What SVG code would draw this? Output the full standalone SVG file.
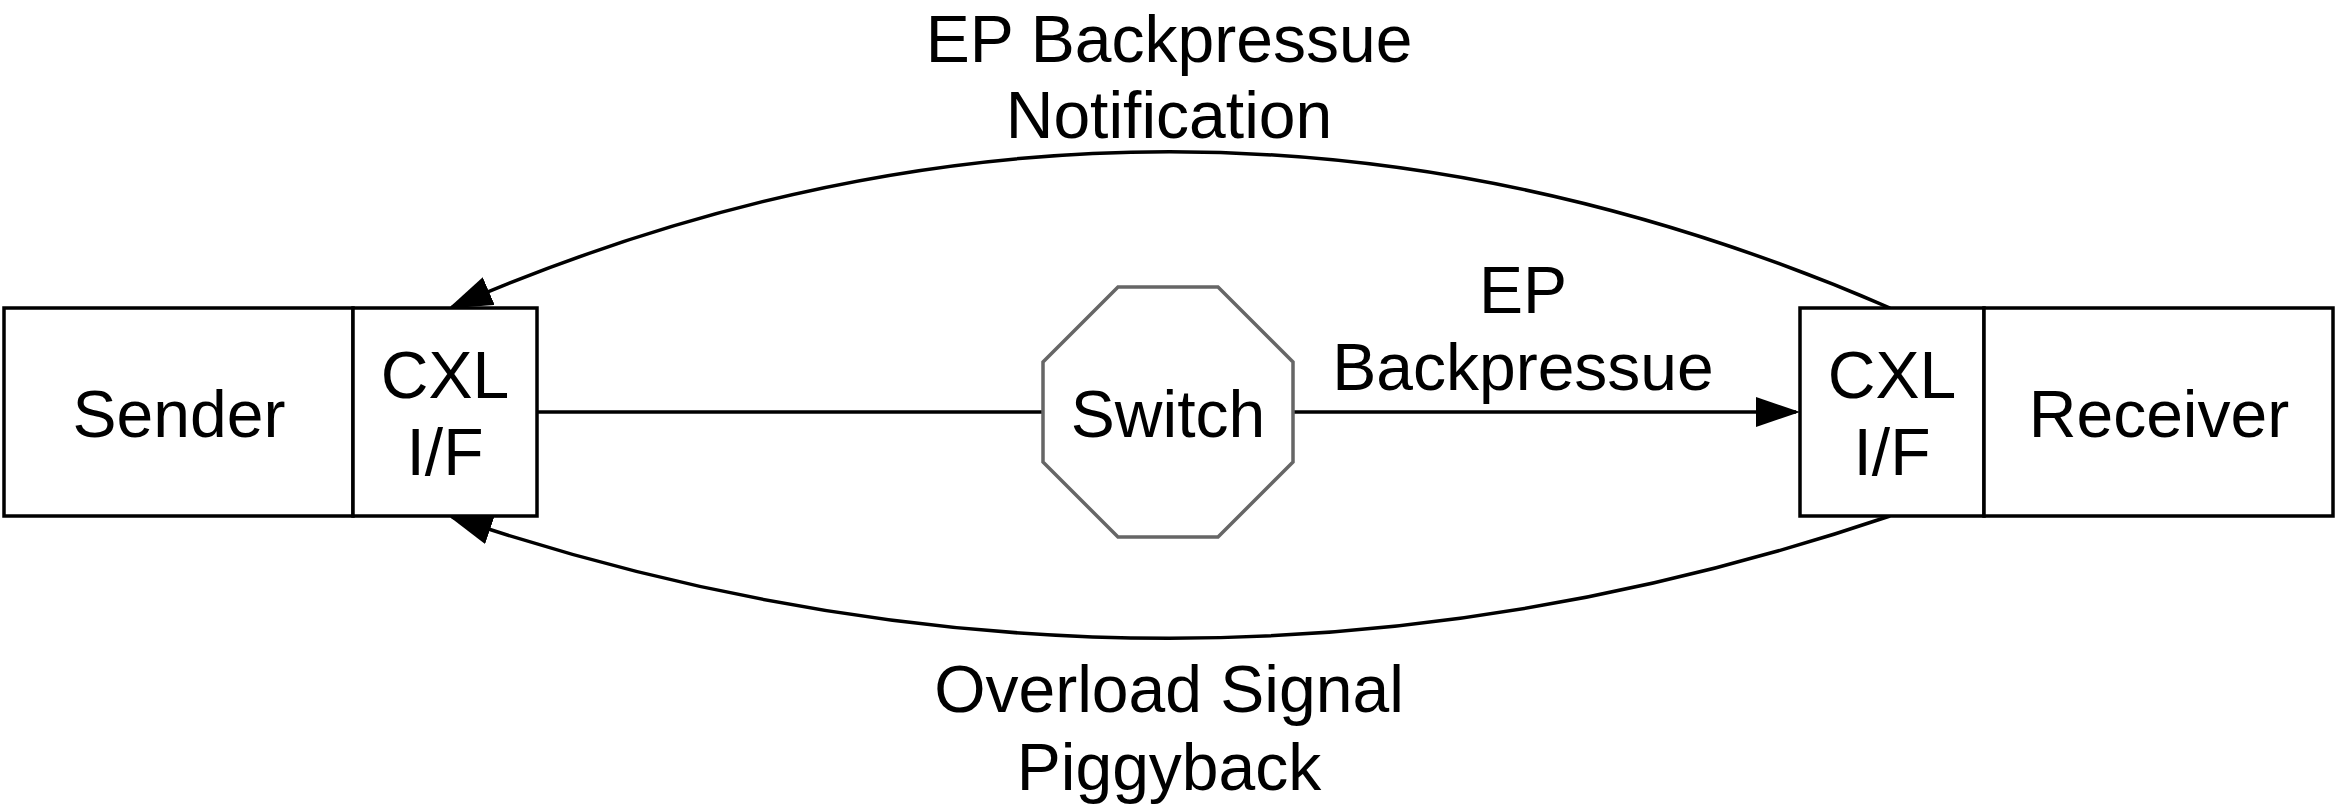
<svg xmlns="http://www.w3.org/2000/svg" width="2337" height="808" viewBox="0 0 2337 808">
<style>
.box{fill:#ffffff;stroke:#000000;stroke-width:3.5}
.sw{fill:#ffffff;stroke:#666666;stroke-width:3.5}
.edge{fill:none;stroke:#000000;stroke-width:3.5}
text{font-family:"Liberation Sans",Arial,Helvetica,sans-serif;font-size:66px;fill:#000000;text-anchor:middle}
</style>
<defs>
<marker id="arr" viewBox="0 0 44 30" refX="40" refY="15" markerWidth="44" markerHeight="30" markerUnits="userSpaceOnUse" orient="auto">
<path d="M0,0 L44,15 L0,30 Z" fill="#000000"/>
</marker>
</defs>
<rect width="2337" height="808" fill="#ffffff"/>
<g id="connectors">
<line class="edge" x1="537" y1="412" x2="1043" y2="412"/>
<line class="edge" x1="1293" y1="412" x2="1796" y2="412" marker-end="url(#arr)"/>
<path class="edge" d="M1890,308 Q1170,-4 452,307" marker-end="url(#arr)"/>
<path class="edge" d="M1890,516 Q1170,760 452,517" marker-end="url(#arr)"/>
</g>
<g id="sender">
<rect class="box" x="4" y="308" width="349" height="208"/>
<text x="179" y="437">Sender</text>
</g>
<g id="sender-cxl">
<rect class="box" x="353" y="308" width="184" height="208"/>
<text x="445" y="398">CXL</text>
<text x="445" y="475">I/F</text>
</g>
<g id="switch">
<polygon class="sw" points="1118,287 1218,287 1293,362 1293,462 1218,537 1118,537 1043,462 1043,362"/>
<text x="1168" y="437">Switch</text>
</g>
<g id="receiver-cxl">
<rect class="box" x="1800" y="308" width="184" height="208"/>
<text x="1892" y="398">CXL</text>
<text x="1892" y="475">I/F</text>
</g>
<g id="receiver">
<rect class="box" x="1984" y="308" width="349" height="208"/>
<text x="2159" y="437">Receiver</text>
</g>
<g id="labels">
<text x="1523" y="313">EP</text>
<text x="1523" y="390">Backpressue</text>
<text x="1169" y="62">EP Backpressue</text>
<text x="1169" y="138">Notification</text>
<text x="1169" y="712">Overload Signal</text>
<text x="1169" y="790">Piggyback</text>
</g>
</svg>
